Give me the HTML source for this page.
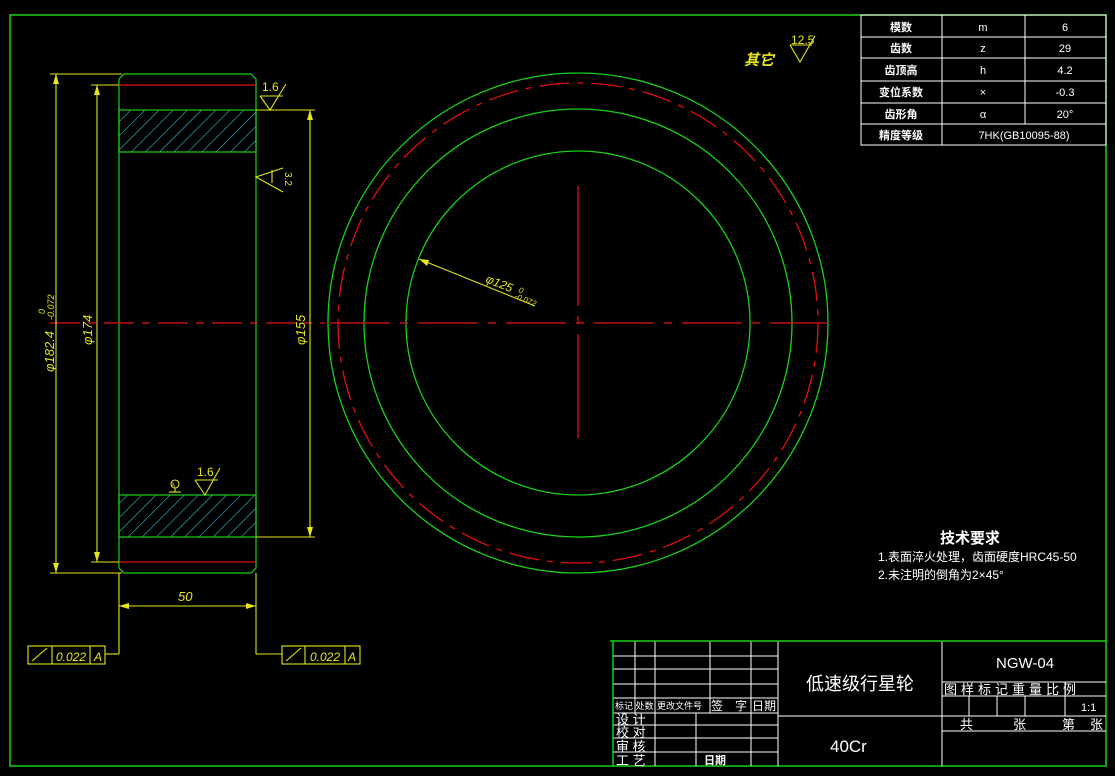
<!DOCTYPE html>
<html><head><meta charset="utf-8"><style>
html,body{margin:0;padding:0;background:#000;}
svg{display:block}
text{font-family:"Liberation Sans","Noto Sans CJK SC",sans-serif;}
</style></head><body>
<svg width="1115" height="776" viewBox="0 0 1115 776" xmlns="http://www.w3.org/2000/svg">
<defs>
<pattern id="h" patternUnits="userSpaceOnUse" width="10" height="10" patternTransform="rotate(45)">
<line x1="0" y1="0" x2="0" y2="10" stroke="#2bc4cc" stroke-width="1.2"/>
</pattern>
</defs>
<rect width="1115" height="776" fill="#000"/>
<rect x="10" y="15" width="1096" height="751" fill="none" stroke="#19d119" stroke-width="1.5"/>

<g fill="none" stroke="#19d119" stroke-width="1.2">
<path d="M119,79 L124,74 L251,74 L256,79 L256,568 L251,573 L124,573 L119,568 Z"/>
<rect x="119" y="110" width="137" height="42" fill="url(#h)"/>
<rect x="119" y="495" width="137" height="42" fill="url(#h)"/>
</g>
<g stroke="#e01010" stroke-width="1.3">
<line x1="119" y1="85" x2="256" y2="85"/>
<line x1="119" y1="562" x2="256" y2="562"/>
<line x1="50" y1="323" x2="325" y2="323" stroke-dasharray="30,8,8,8"/>
</g>
<g stroke="#e6e61a" stroke-width="1.1" fill="none">
<line x1="50" y1="74" x2="122" y2="74"/><line x1="50" y1="573" x2="122" y2="573"/>
<line x1="56" y1="74" x2="56" y2="573"/>
<line x1="91" y1="85" x2="119" y2="85"/><line x1="91" y1="562" x2="119" y2="562"/>
<line x1="97" y1="85" x2="97" y2="562"/>
<line x1="256" y1="110" x2="315" y2="110"/><line x1="256" y1="537" x2="315" y2="537"/>
<line x1="310" y1="110" x2="310" y2="537"/>
<line x1="119" y1="573" x2="119" y2="654"/><line x1="256" y1="573" x2="256" y2="654"/>
<line x1="119" y1="606" x2="256" y2="606"/>
<line x1="105" y1="654" x2="119" y2="654"/><line x1="256" y1="654" x2="282" y2="654"/>
<rect x="28" y="646" width="77" height="18"/><line x1="52" y1="646" x2="52" y2="664"/><line x1="90" y1="646" x2="90" y2="664"/>
<rect x="282" y="646" width="78" height="18"/><line x1="305" y1="646" x2="305" y2="664"/><line x1="345" y1="646" x2="345" y2="664"/>
<line x1="32" y1="661" x2="47" y2="648"/><line x1="286" y1="661" x2="301" y2="648"/>
<path d="M260,96 L283,96 M260,96 L270,110 L286,84"/>
<path d="M283,168 L256,177 L283,192 M272,170 L272,183"/>
<path d="M195,480 L218,480 M195,480 L205,495 L220,468"/>
<circle cx="175" cy="484" r="4"/><line x1="169" y1="492" x2="181" y2="492"/><line x1="175" y1="488" x2="175" y2="492"/>
<path d="M790,45 L812,45 M790,45 L800,62 L815,36"/>
<line x1="419" y1="259" x2="535" y2="306"/>
</g>
<g fill="#e6e61a">
<path d="M56,74 l-3,10 l6,0z M56,573 l-3,-10 l6,0z M97,85 l-3,10 l6,0z M97,562 l-3,-10 l6,0z M310,110 l-3,10 l6,0z M310,537 l-3,-10 l6,0z M119,606 l10,-3 l0,6z M256,606 l-10,-3 l0,6z M419,259 l10,1 l-2,6z"/>
</g>
<g fill="#e6e61a" font-style="italic" font-size="13">
<text transform="translate(54,372) rotate(-90)">φ182.4</text>
<text transform="translate(54,320) rotate(-90)" font-size="9">-0.072</text>
<text transform="translate(45,314) rotate(-90)" font-size="9">0</text>
<text transform="translate(92,345) rotate(-90)">φ174</text>
<text transform="translate(305,345) rotate(-90)">φ155</text>
<text x="178" y="601">50</text>
<text x="56" y="661" font-size="12">0.022</text><text x="94" y="661" font-size="12">A</text>
<text x="310" y="661" font-size="12">0.022</text><text x="348" y="661" font-size="12">A</text>
<text transform="translate(485,282) rotate(22)" font-size="12">φ125</text>
<text transform="translate(518,292) rotate(22)" font-size="8">0</text>
<text transform="translate(514,298) rotate(22)" font-size="8">-0.072</text>
<text x="744" y="65" font-size="15" font-weight="bold">其它</text>
</g>
<g fill="#e6e61a" font-size="12">
<text x="262" y="91">1.6</text>
<text x="197" y="476">1.6</text>
<text x="791" y="44">12.5</text>
<text transform="translate(285,172) rotate(90)" font-size="10">3.2</text>
<text x="171" y="487" font-size="6">A</text>
</g>

<g fill="none" stroke-width="1.3">
<circle cx="578" cy="323" r="250" stroke="#19d119"/>
<circle cx="578" cy="323" r="240" stroke="#e01010" stroke-dasharray="30,8,6,8"/>
<circle cx="578" cy="323" r="214" stroke="#19d119"/>
<circle cx="578" cy="323" r="172" stroke="#19d119"/>
<line x1="330" y1="323" x2="828" y2="323" stroke="#e01010" stroke-dasharray="60,10,8,10"/>
<line x1="578" y1="186" x2="578" y2="438" stroke="#e01010" stroke-dasharray="120,10,8,10"/>
</g>

<g stroke="#fff" stroke-width="1" fill="none">
<rect x="861" y="15" width="245" height="130"/>
<line x1="942" y1="15" x2="942" y2="145"/><line x1="1025" y1="15" x2="1025" y2="124"/>
<line x1="861" y1="37" x2="1106" y2="37"/><line x1="861" y1="58" x2="1106" y2="58"/>
<line x1="861" y1="81" x2="1106" y2="81"/><line x1="861" y1="103" x2="1106" y2="103"/>
<line x1="861" y1="124" x2="1106" y2="124"/>
</g>
<g fill="#fff" font-size="11" text-anchor="middle">
<text x="901" y="31" font-weight="bold">模数</text><text x="983" y="31">m</text><text x="1065" y="31">6</text>
<text x="901" y="52" font-weight="bold">齿数</text><text x="983" y="52">z</text><text x="1065" y="52">29</text>
<text x="901" y="74" font-weight="bold">齿顶高</text><text x="983" y="74">h</text><text x="1065" y="74">4.2</text>
<text x="901" y="96" font-weight="bold">变位系数</text><text x="983" y="96">×</text><text x="1065" y="96">-0.3</text>
<text x="901" y="118" font-weight="bold">齿形角</text><text x="983" y="118">α</text><text x="1065" y="118">20°</text>
<text x="901" y="139" font-weight="bold">精度等级</text><text x="1024" y="139">7HK(GB10095-88)</text>
</g>

<g fill="#fff">
<text x="940" y="543" font-size="15" font-weight="bold">技术要求</text>
<text x="878" y="561" font-size="12">1.表面淬火处理，齿面硬度HRC45-50</text>
<text x="878" y="579" font-size="12">2.未注明的倒角为2×45°</text>
</g>

<g stroke="#fff" stroke-width="1" fill="none">
<line x1="613" y1="656" x2="778" y2="656"/><line x1="613" y1="669" x2="778" y2="669"/>
<line x1="613" y1="684" x2="778" y2="684"/><line x1="613" y1="698" x2="778" y2="698"/>
<line x1="613" y1="713" x2="778" y2="713"/><line x1="613" y1="725" x2="778" y2="725"/>
<line x1="613" y1="738" x2="778" y2="738"/><line x1="613" y1="752" x2="778" y2="752"/>
<line x1="635" y1="641" x2="635" y2="713"/><line x1="655" y1="641" x2="655" y2="766"/>
<line x1="710" y1="641" x2="710" y2="713"/><line x1="751" y1="641" x2="751" y2="766"/>
<line x1="696" y1="713" x2="696" y2="766"/>
<line x1="778" y1="641" x2="778" y2="766"/>
<line x1="778" y1="716" x2="942" y2="716"/>
<line x1="942" y1="641" x2="942" y2="766"/>
<line x1="942" y1="682" x2="1106" y2="682"/><line x1="942" y1="696" x2="1106" y2="696"/>
<line x1="942" y1="716" x2="1106" y2="716"/><line x1="942" y1="731" x2="1106" y2="731"/>
<line x1="969" y1="696" x2="969" y2="716"/><line x1="997" y1="696" x2="997" y2="716"/>
<line x1="1025" y1="696" x2="1025" y2="716"/><line x1="1065" y1="682" x2="1065" y2="716"/>
</g>
<line x1="610" y1="641" x2="1106" y2="641" stroke="#19d119" stroke-width="1.5"/>
<line x1="613" y1="641" x2="613" y2="766" stroke="#19d119" stroke-width="1.5"/>
<g fill="#fff">
<text x="615" y="709" font-size="9">标记 处数</text>
<text x="657" y="709" font-size="9">更改文件号</text>
<text x="711" y="710" font-size="12">签　字</text>
<text x="752" y="710" font-size="12">日期</text>
<text x="616" y="724" font-size="13">设 计</text>
<text x="616" y="737" font-size="13">校 对</text>
<text x="616" y="751" font-size="13">审 核</text>
<text x="616" y="765" font-size="13">工 艺</text>
<text x="704" y="764" font-size="11" font-weight="bold">日期</text>
<text x="806" y="690" font-size="18">低速级行星轮</text>
<text x="830" y="752" font-size="17">40Cr</text>
<text x="996" y="668" font-size="15">NGW-04</text>
<text x="944" y="694" font-size="13" letter-spacing="4">图样标记重量比例</text>
<text x="1081" y="711" font-size="11">1:1</text>
<text x="960" y="729" font-size="13">共</text><text x="1013" y="729" font-size="13">张</text>
<text x="1062" y="729" font-size="13">第</text><text x="1090" y="729" font-size="13">张</text>
</g>
</svg>
</body></html>
